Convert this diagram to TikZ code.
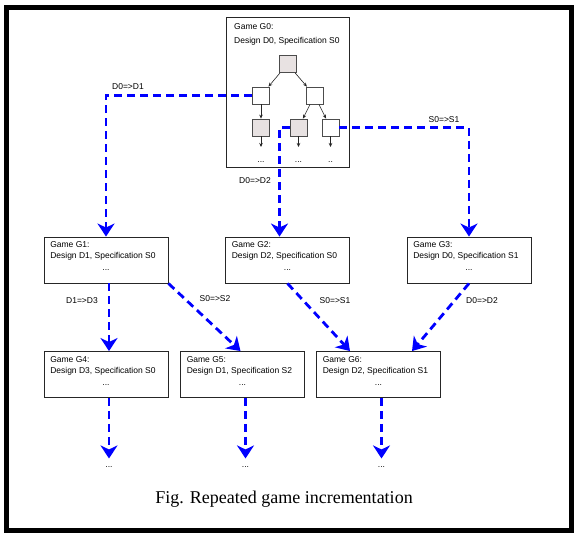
\documentclass[tikz,border=0pt]{standalone}
\usepackage{fontspec}
\setmainfont{Liberation Sans}
\newfontfamily\capfont{Liberation Serif}
\usetikzlibrary{arrows.meta,positioning}
\definecolor{sqfill}{RGB}{232,226,226}
\tikzset{
  game/.style={draw=black!85, line width=0.9pt, minimum width=124pt, minimum height=46pt, inner sep=0pt},
  gtext/.style={anchor=base west, inner sep=0pt, font=\fontsize{8.5}{10}\selectfont},
  sq/.style={draw=black!70, line width=0.8pt, fill=white, minimum size=17pt, inner sep=0pt},
  sqg/.style={sq, fill=sqfill},
  tarrow/.style={-{Stealth[length=4pt,width=3.5pt]}, line width=0.6pt, black!85},
  move/.style={blue, line width=2.8pt, dash pattern=on 8pt off 5pt, -{Stealth[length=13pt,width=17pt,inset=4pt]}},
  mv/.style={inner sep=0pt, font=\fontsize{8.5}{10}\selectfont},
}

\begin{document}
\begin{tikzpicture}[x=1pt,y=-1pt]
\useasboundingbox (0,0) rectangle (578,536);
\draw[line width=5pt] (6.5,7.5) rectangle (571.5,530.5);

% game G0 and its tree
\node[game, minimum width=123pt, minimum height=150pt] (g0) at (287.5,92) {};
\node[gtext] (g0t) at (234,29) {Game G0:};
\node[gtext] (g0d) at (234,43) {Design D0, Specification S0};
\node[sqg] (a) at (287.5,64) {};
\node[sq] (b1) at (261,95.5) {};
\node[sq] (b2) at (314.5,95.5) {};
\node[sqg] (c1) at (261,127.5) {};
\node[sqg] (c2) at (298.5,127.5) {};
\node[sq] (c3) at (330.5,127.5) {};
\draw[tarrow] (a) -- (b1);
\draw[tarrow] (a) -- (b2);
\draw[tarrow] (b1) -- (c1);
\draw[tarrow] (b2) -- (c2);
\draw[tarrow] (b2) -- (c3);
\foreach \n/\x in {1/261,2/298.5,3/330.5}
{\coordinate (e\n) at (\x,147);
\draw[tarrow] (c\n) -- (e\n);}
\node[mv, anchor=base] (f1) at (261,162) {...};
\node[mv, anchor=base] (f2) at (298.5,162) {...};
\node[mv, anchor=base] (f3) at (330.5,162) {..};

% the other games
\foreach \n/\x/\y/\d/\s in {1/106/260/D1/S0, 2/287.5/260/D2/S0, 3/469/260/D0/S1,
  4/106/374.5/D3/S0, 5/242.5/374.5/D1/S2, 6/378.5/374.5/D2/S1}
{\node[game] (g\n) at (\x,\y) {};
\node[gtext] at ([xshift=6.5pt,yshift=-11pt]g\n.north west) {Game G\n:};
\node[gtext] at ([xshift=6.5pt,yshift=-22pt]g\n.north west) {Design \d, Specification \s};
\node[mv, anchor=base] at ([yshift=-34pt]g\n.north) {...};}

% moves
\draw[move] (b1.west) -| (g1.north);
\draw[move] (c2.west) -| ([xshift=-8pt]g2.north);
\draw[move] (c3.east) -| (g3.north);
\draw[move] ([xshift=3pt]g1.south) -- ([xshift=3pt]g4.north);
\draw[move] (g1.south east) -- ([xshift=-2pt]g5.north);
\draw[move] (g2.south) -- ([xshift=-28.5pt]g6.north);
\draw[move] (g3.south) -- ([xshift=33.5pt]g6.north);
\foreach \n in {4,5,6}
{\coordinate (h\n) at ([xshift=3pt,yshift=-60.5pt]g\n.south);
\draw[move] ([xshift=3pt]g\n.south) -- (h\n);
\node[mv, anchor=base] at ([xshift=3pt,yshift=-69.5pt]g\n.south) {...};}

\node[mv] (l1) at (128,87) {D0=>D1};
\node[mv] (l2) at (255,181) {D0=>D2};
\node[mv] (l3) at (444,120) {S0=>S1};
\node[mv] (l4) at (82,301) {D1=>D3};
\node[mv] (l5) at (215,299) {S0=>S2};
\node[mv] (l6) at (335,301) {S0=>S1};
\node[mv] (l7) at (482,301) {D0=>D2};

\node[font=\capfont\fontsize{18}{20}\selectfont, anchor=base, inner sep=0pt] (cap) at (284,503) {Fig. Repeated game incrementation};
\end{tikzpicture}
\end{document}
